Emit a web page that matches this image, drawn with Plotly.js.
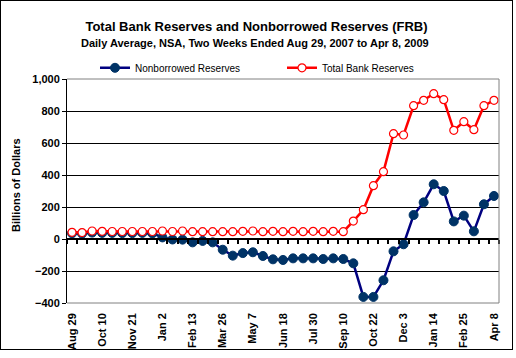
<!DOCTYPE html>
<html>
<head>
<meta charset="utf-8">
<script src="https://cdn.plot.ly/plotly-3.0.1.min.js"></script>
<style>
  html, body { margin: 0; padding: 0; background: #fff; }
  #chart { position: absolute; left: 0; top: 0; width: 511px; height: 348px; border: 1px solid #000; }
</style>
</head>
<body>
<div id="chart"></div>
<script>
// Two-week periods ended (Aug 29, 2007 .. Apr 8, 2009)
const periods = [
  "Aug 29","Sep 12","Sep 26","Oct 10","Oct 24","Nov 7","Nov 21","Dec 5","Dec 19",
  "Jan 2","Jan 16","Jan 30","Feb 13","Feb 27","Mar 12","Mar 26","Apr 9","Apr 23",
  "May 7","May 21","Jun 4","Jun 18","Jul 2","Jul 16","Jul 30","Aug 13","Aug 27",
  "Sep 10","Sep 24","Oct 8","Oct 22","Nov 5","Nov 19","Dec 3","Dec 17","Dec 31",
  "Jan 14","Jan 28","Feb 11","Feb 25","Mar 11","Mar 25","Apr 8"
];
const nonborrowed = [
  36, 34, 40, 38, 38, 37, 37, 38, 35,
  10, -3, -4, -21, -12, -21, -67, -104, -88,
  -83, -106, -127, -131, -121, -121, -121, -125, -121,
  -125, -152, -362, -362, -258, -77, -33, 150, 229,
  342, 300, 110, 146, 48, 217, 269
];
const totalReserves = [
  42, 40, 50, 48, 47, 47, 47, 47, 47,
  50, 47, 50, 46, 46, 46, 46, 46, 48,
  50, 46, 48, 46, 48, 46, 48, 46, 48,
  46, 112, 183, 333, 421, 658, 650, 833, 867,
  908, 871, 679, 733, 683, 833, 867
];
const labelEvery = 3;
const yTicks = [-400, -200, 0, 200, 400, 600, 800, 1000];

const idx = periods.map((p, i) => i);
const tickIdx = idx.filter(i => i % labelEvery === 0);
const tickText = tickIdx.map(i => periods[i]);
const boundaries = idx.map(i => i - 0.5).concat([periods.length - 0.5]);

const FONT = "Arial, 'Liberation Sans', sans-serif";
const yMin = -400, yMax = 1000;
const xRange = [-0.5, periods.length - 0.5];

const traces = [
  {
    type: "scatter", mode: "lines+markers", name: "Nonborrowed Reserves",
    x: idx, y: nonborrowed, text: periods, legend: "legend",
    line: { color: "#000080", width: 2.5 },
    marker: { symbol: "circle", size: 9, color: "#003366", line: { color: "#003366", width: 1 } }
  },
  {
    type: "scatter", mode: "lines+markers", name: "Total Bank Reserves",
    x: idx, y: totalReserves, text: periods, xaxis: "x2", legend: "legend2",
    line: { color: "#ff0000", width: 2.5 },
    marker: { symbol: "circle", size: 8, color: "#ffffff", line: { color: "#ff0000", width: 1.2 } }
  }
];

const legendCommon = {
  orientation: "h", y: 1.05, yanchor: "middle", xanchor: "left",
  font: { family: FONT, size: 10, color: "#000" },
  bgcolor: "rgba(0,0,0,0)"
};

const layout = {
  width: 511, height: 348,
  margin: { l: 66, r: 13, t: 78, b: 46 },
  paper_bgcolor: "#ffffff", plot_bgcolor: "#ffffff",
  font: { family: FONT, color: "#000", size: 11 },
  showlegend: true,
  title: {
    text: "<b>Total Bank Reserves and Nonborrowed Reserves (FRB)</b>",
    font: { family: FONT, size: 13, color: "#000" },
    x: 0.5, xref: "container", xanchor: "center",
    y: 1 - 25 / 348, yref: "container", yanchor: "middle"
  },
  legend: Object.assign({}, legendCommon, { x: (95 - 67) / 432 }),
  legend2: Object.assign({}, legendCommon, { x: (282 - 67) / 432 }),
  xaxis: {
    range: xRange, tickmode: "array", tickvals: tickIdx, ticktext: tickText,
    tickangle: -90, ticks: "", showgrid: false, zeroline: false, showline: false,
    ticklabelstandoff: 7,
    tickfont: { family: FONT, size: 11, color: "#000", weight: "bold" },
    fixedrange: true
  },
  xaxis2: {
    overlaying: "x", anchor: "free", position: (0 - yMin) / (yMax - yMin), side: "bottom",
    range: xRange, tickmode: "array", tickvals: boundaries, ticks: "outside",
    ticklen: 4, tickwidth: 2, tickcolor: "#000", showticklabels: false,
    showline: true, linecolor: "#000", linewidth: 2, showgrid: false, zeroline: false
  },
  yaxis: {
    range: [yMin, yMax], tickmode: "array", tickvals: yTicks, tickformat: ",",
    ticks: "outside", ticklen: 4, tickcolor: "#000",
    showline: true, linecolor: "#000", linewidth: 1,
    showgrid: true, gridcolor: "#000", gridwidth: 1, zeroline: false,
    tickfont: { family: FONT, size: 11, color: "#000", weight: "bold" }
  },
  annotations: [
    {
      text: "<b>Daily Average, NSA, Two Weeks Ended Aug 29, 2007 to Apr 8, 2009</b>",
      xref: "paper", yref: "paper", x: (255 - 67) / 432, y: (303 - 43) / 224,
      xanchor: "center", yanchor: "middle", showarrow: false,
      font: { family: FONT, size: 11, color: "#000" }
    },
    {
      text: "<b>Billions of Dollars</b>", textangle: -90,
      xref: "paper", yref: "paper", x: (16 - 67) / 432, y: 0.527,
      xanchor: "center", yanchor: "middle", showarrow: false,
      font: { family: FONT, size: 11, color: "#000" }
    }
  ],
  shapes: [
    { type: "line", xref: "paper", yref: "paper", x0: 0, x1: 1, y0: 1, y1: 1, line: { color: "#808080", width: 1 }, layer: "above" },
    { type: "line", xref: "paper", yref: "paper", x0: 1, x1: 1, y0: 0, y1: 1, line: { color: "#808080", width: 1 }, layer: "above" },
    { type: "line", xref: "paper", yref: "paper", x0: 0, x1: 1, y0: 0, y1: 0, line: { color: "#808080", width: 1 }, layer: "above" }
  ]
};

Plotly.newPlot("chart", traces, layout, { displayModeBar: false, staticPlot: true });
</script>
</body>
</html>
